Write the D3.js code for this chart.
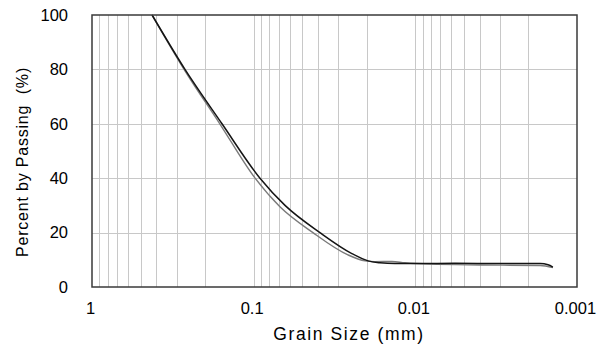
<!DOCTYPE html>
<html>
<head>
<meta charset="utf-8">
<script src="https://cdn.jsdelivr.net/npm/d3@7"></script>
<style>
  html, body { margin: 0; padding: 0; background: #fff; }
  svg { display: block; }
  text { font-family: "Liberation Sans", Arial, sans-serif; fill: #000; }
</style>
</head>
<body>
<svg id="chart" width="609" height="347"></svg>
<script>
// Grain size distribution: two specimens, percent passing vs grain size (mm)
const sizesA   = [0.425, 0.266, 0.157, 0.0914, 0.064, 0.0389, 0.0247, 0.0196, 0.01655, 0.01337, 0.00937, 0.00569, 0.0030, 0.00169, 0.00151, 0.00141];
const passingA = [100,   80,    60,    40,     30,    20,     12.3,   9.6,    8.9,     8.6,     8.6,     8.7,     8.6,    8.6,     8.2,     7.3];

const sizesB   = [0.425, 0.266, 0.162, 0.098, 0.0688, 0.043, 0.0261, 0.0205, 0.0178, 0.01396, 0.0116, 0.00813, 0.00398, 0.00169, 0.00141];
const passingB = [100,   79.5,  60,    40,    29.5,   20,    11.8,   9.6,    9.3,    9.4,     8.9,    8.4,     8.1,     7.9,     7.1];

const xTickValues = [1, 0.1, 0.01, 0.001];
const xTickLabels = ["1", "0.1", "0.01", "0.001"];
const yTickValues = [0, 20, 40, 60, 80, 100];
const yTickLabels = ["0", "20", "40", "60", "80", "100"];

const svg = d3.select("#chart");
const m = { left: 92, right: 32, top: 15, bottom: 60 };
const W = 609, H = 347;

const x = d3.scaleLog().domain([1, 0.001]).range([m.left, W - m.right]);
const y = d3.scaleLinear().domain([0, 100]).range([H - m.bottom, m.top]);

// minor + major vertical grid (1..9 per decade)
const gridX = [];
[1, 0.1, 0.01].forEach(dec => {
  for (let k = 1; k <= 9; k++) {
    const v = dec * k / 10;
    if (v < 1 && v > 0.001) gridX.push(v);
  }
});

const grid = svg.append("g").attr("stroke", "#c8c8c8").attr("stroke-width", 1);
grid.selectAll("line.vx").data(gridX).join("line")
  .attr("x1", d => Math.round(x(d)) + 0.5).attr("x2", d => Math.round(x(d)) + 0.5)
  .attr("y1", y(100)).attr("y2", y(0));
grid.selectAll("line.hy").data(yTickValues.filter(v => v > 0 && v < 100)).join("line")
  .attr("x1", x(1)).attr("x2", x(0.001))
  .attr("y1", d => Math.round(y(d)) + 0.5).attr("y2", d => Math.round(y(d)) + 0.5);

// curves
const line = d3.line()
  .x(d => x(d[0])).y(d => y(d[1]))
  .curve(d3.curveMonotoneX);

svg.append("path")
  .datum(d3.zip(sizesB, passingB))
  .attr("fill", "none").attr("stroke", "#7a7a7a").attr("stroke-width", 1.4)
  .attr("d", line);
svg.append("path")
  .datum(d3.zip(sizesA, passingA))
  .attr("fill", "none").attr("stroke", "#141414").attr("stroke-width", 1.5)
  .attr("d", line);

// plot frame
svg.append("rect")
  .attr("x", x(1)).attr("y", y(100))
  .attr("width", x(0.001) - x(1)).attr("height", y(0) - y(100))
  .attr("fill", "none").attr("stroke", "#3a3a3a").attr("stroke-width", 1.5);

// axes (labels only)
const xAxis = d3.axisBottom(x).tickValues(xTickValues).tickSize(0).tickPadding(0)
  .tickFormat((d, i) => xTickLabels[i]);
const gx = svg.append("g").attr("transform", `translate(0,${y(0)})`).call(xAxis);
gx.select(".domain").remove();
gx.selectAll("text").attr("font-size", 16.5).attr("font-family", null).attr("fill", "#000")
  .attr("dy", null).attr("y", 27).attr("dx", -2);

const yAxis = d3.axisLeft(y).tickValues(yTickValues).tickSize(0).tickPadding(0)
  .tickFormat((d, i) => yTickLabels[i]);
const gy = svg.append("g").attr("transform", `translate(${x(1)},0)`).call(yAxis);
gy.select(".domain").remove();
gy.selectAll("text").attr("font-size", 16.5).attr("font-family", null).attr("fill", "#000")
  .attr("x", -24);

// axis titles
svg.append("text")
  .attr("x", 349).attr("y", 340)
  .attr("text-anchor", "middle").attr("font-size", 17.5).attr("letter-spacing", 1.6)
  .text("Grain Size (mm)");

svg.append("text")
  .attr("transform", "translate(28,162) rotate(-90)")
  .attr("text-anchor", "middle").attr("font-size", 16).attr("letter-spacing", 0.8)
  .text("Percent by Passing\u00a0 (%)");
</script>
</body>
</html>
